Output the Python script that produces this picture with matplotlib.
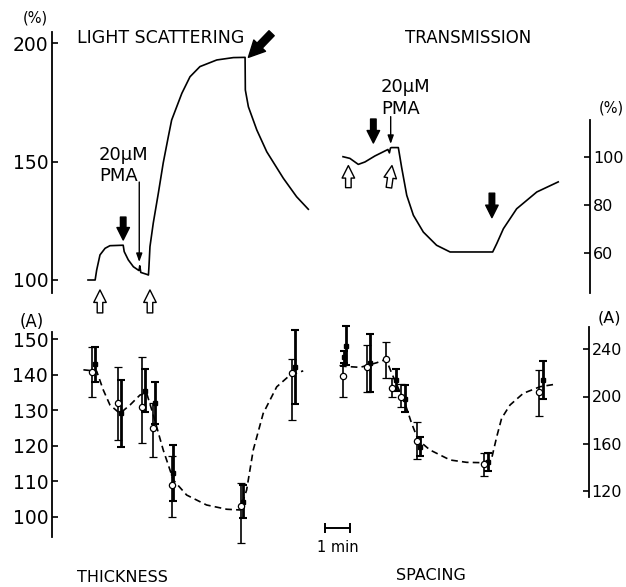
import matplotlib
matplotlib.use("Agg")
import matplotlib.pyplot as plt

W, H = 626, 587
PPM = 25.5  # pixels per minute in the figure

# ---- light scattering (%), time in min ----
ls_t = [0.00, 0.28, 0.34, 0.47, 0.67, 0.86, 1.38, 1.42, 1.58, 1.78, 1.97, 2.00, 2.03, 2.07,
        2.30, 2.37, 2.39, 2.43, 2.56, 2.76, 2.95, 3.15, 3.28, 3.68, 4.00, 4.39, 5.05, 5.70,
        6.16, 6.17, 6.29, 6.62, 7.01, 7.66, 8.18, 8.64]
ls_v = [100.0, 100.0, 104.2, 110.6, 113.4, 114.5, 114.7, 112.0, 108.5, 105.6, 104.2, 104.0,
        106.0, 103.2, 102.4, 102.1, 105.6, 114.1, 124.1, 136.8, 149.5, 160.6, 167.6, 178.9,
        185.9, 190.2, 193.0, 194.0, 194.1, 180.3, 173.2, 163.4, 154.2, 143.0, 135.2, 129.9]

# ---- transmission (%) ----
tr_t = [0.00, 0.27, 0.60, 0.86, 1.25, 1.76, 1.82, 1.86, 1.90, 2.17, 2.30, 2.50, 2.76, 3.15,
        3.67, 4.20, 5.87, 6.03, 6.29, 6.81, 7.60, 8.44]
tr_v = [100.0, 99.3, 96.8, 97.8, 100.3, 103.0, 101.6, 103.6, 103.8, 103.8, 95.5, 83.9, 75.6,
        68.6, 63.1, 60.3, 60.3, 63.8, 70.0, 78.3, 85.3, 89.5]

# ---- thickness (A) ----
th_open_t = [0.17, 1.19, 2.11, 2.53, 3.28, 6.00, 8.01]
th_open_v = [140.7, 132.0, 131.0, 124.9, 108.9, 103.0, 140.4]
th_open_lo = [6.9, 10.4, 10.3, 8.0, 8.9, 10.5, 13.1]
th_open_hi = [7.0, 10.1, 14.1, 7.1, 8.3, 6.6, 4.0]
th_fill_t = [0.29, 1.30, 2.25, 2.61, 3.35, 6.07, 8.12]
th_fill_v = [142.9, 129.1, 135.5, 132.0, 112.4, 104.2, 142.2]
th_fill_err = [4.8, 9.4, 6.0, 6.0, 7.9, 4.7, 10.4]
th_fit_t = [-0.18, 0.34, 0.60, 0.86, 1.25, 1.65, 2.04, 2.30, 2.56, 2.95, 3.35, 3.87, 4.65,
            5.44, 5.96, 6.22, 6.48, 6.87, 7.40, 7.92, 8.44]
th_fit_v = [141.4, 141.0, 135.7, 131.5, 129.1, 131.5, 134.3, 134.8, 128.7, 118.8, 110.3,
            106.1, 103.3, 102.1, 101.9, 107.5, 118.8, 129.1, 136.6, 139.9, 141.1]

# ---- spacing (A) ----
sp_open_t = [-0.01, 0.93, 1.69, 1.93, 2.27, 2.92, 5.53, 7.69]
sp_open_v = [217.4, 224.7, 231.5, 207.2, 200.0, 162.5, 142.8, 203.8]
sp_open_lo = [17.6, 20.6, 16.1, 7.4, 8.6, 15.3, 9.9, 20.3]
sp_open_hi = [9.3, 18.9, 14.9, 8.2, 10.6, 15.5, 9.1, 18.7]
sp_fill_t = [0.02, 0.12, 1.04, 2.06, 2.43, 3.02, 5.70, 7.84]
sp_fill_v = [233.7, 243.0, 228.1, 214.0, 198.0, 157.5, 144.7, 214.0]
sp_fill_err = [5.0, 16.5, 24.5, 9.6, 11.5, 8.0, 7.5, 16.0]
sp_fit_t = [-0.12, 0.67, 1.32, 1.69, 1.91, 2.17, 2.43, 2.69, 2.95, 3.41, 4.20, 4.85, 5.50,
            5.83, 6.03, 6.22, 6.55, 7.07, 7.73, 8.38]
sp_fit_v = [225.8, 224.7, 228.6, 231.5, 219.7, 207.0, 194.2, 177.3, 163.1, 154.7, 146.2,
            144.2, 143.9, 147.6, 166.0, 181.5, 192.8, 202.7, 208.3, 210.6]

ls_ticks = [100, 150, 200]
tr_ticks = [60, 80, 100]
th_ticks = [100, 110, 120, 130, 140, 150]
sp_ticks = [120, 160, 200, 240]

FONT = "DejaVu Sans"
plt.rcParams["font.family"] = FONT


def overlay(fig, t0_px, y_ref_px, v_ref, px_per_unit):
    # full-figure transparent axes, calibrated so that one minute = PPM pixels
    ax = fig.add_axes([0, 0, 1, 1])
    ax.patch.set_visible(False)
    ax.set_xlim(-t0_px / PPM, (W - t0_px) / PPM)
    ax.set_ylim(v_ref - (H - y_ref_px) / px_per_unit, v_ref + y_ref_px / px_per_unit)
    for s in ax.spines.values():
        s.set_visible(False)
    ax.set_xticks([])
    return ax


def y_axis(ax, side, t_pos, lo, hi, ticks):
    sp = ax.spines[side]
    sp.set_visible(True)
    sp.set_position(("data", t_pos))
    sp.set_bounds(lo, hi)
    sp.set_linewidth(1.3)
    ax.set_yticks(ticks)
    if side == "right":
        ax.yaxis.set_ticks_position("right")
        ax.tick_params(axis="y", labelright=True, labelleft=False)
        # right-hand labels sit against the figure edge
        ax.tick_params(axis="y", direction="in", length=4, width=1.2, labelsize=11.5, pad=2.0)
    else:
        ax.tick_params(axis="y", direction="in", length=4, width=1.2, labelsize=13.5, pad=3.0)


def px(x, y):
    return x / W, 1 - y / H


def block_arrow(ax, tip, tail, fc, size=10):
    ax.annotate("", xy=tip, xytext=tail,
                arrowprops=dict(arrowstyle="simple,head_length=0.9,head_width=0.9,tail_width=0.4",
                                fc=fc, ec="black", lw=1.0, shrinkA=0, shrinkB=0,
                                mutation_scale=size))


def thin_arrow(ax, tip, tail):
    ax.annotate("", xy=tip, xytext=tail,
                arrowprops=dict(arrowstyle="-|>,head_length=0.5,head_width=0.18", fc="black",
                                ec="black", lw=1.0, shrinkA=0, shrinkB=0, mutation_scale=10))


fig = plt.figure(figsize=(W / 100, H / 100), dpi=100)

# light scattering
ax_ls = overlay(fig, 88, 280, 100, 2.366)
ax_ls.plot(ls_t, ls_v, color="black", lw=1.2)
y_axis(ax_ls, "left", -1.40, 94.5, 204.8, ls_ticks)
block_arrow(ax_ls, (1.38, 116.9), (1.38, 126.6), "black")
thin_arrow(ax_ls, (2.01, 107.6), (2.01, 141.4))
block_arrow(ax_ls, (6.29, 194.1), (7.20, 204.3), "black", size=13)
block_arrow(ax_ls, (0.47, 95.8), (0.47, 86.1), "white")
block_arrow(ax_ls, (2.43, 95.8), (2.43, 86.1), "white")

# transmission
ax_tr = overlay(fig, 343, 156.7, 100, 2.4)
ax_tr.plot(tr_t, tr_v, color="black", lw=1.2)
y_axis(ax_tr, "right", 9.69, 43.1, 115.3, tr_ticks)
block_arrow(ax_tr, (1.19, 105.7), (1.19, 115.7), "black")
thin_arrow(ax_tr, (1.87, 105.3), (1.87, 116.7))
block_arrow(ax_tr, (0.21, 96.3), (0.21, 87.1), "white")
block_arrow(ax_tr, (1.92, 96.3), (1.80, 87.1), "white")
block_arrow(ax_tr, (5.84, 74.6), (5.84, 84.8), "black")

# thickness
ax_th = overlay(fig, 88, 339.3, 150, 3.548)
ax_th.plot(th_fit_t, th_fit_v, color="black", lw=1.2, ls=(0, (4, 2.5)))
ax_th.errorbar(th_fill_t, th_fill_v, yerr=th_fill_err, fmt="s", ms=3, color="black",
               elinewidth=2.0, capsize=3, capthick=1.5)
ax_th.errorbar(th_open_t, th_open_v, yerr=[th_open_lo, th_open_hi], fmt="o", ms=4.5,
               mfc="white", mec="black", mew=0.9, color="black", elinewidth=1.2,
               capsize=3, capthick=1.5)
y_axis(ax_th, "left", -1.40, 94.4, 152.1, th_ticks)

# spacing
ax_sp = overlay(fig, 343, 349.3, 240, 1.18)
ax_sp.plot(sp_fit_t, sp_fit_v, color="black", lw=1.2, ls=(0, (4, 2.5)))
ax_sp.errorbar(sp_fill_t, sp_fill_v, yerr=sp_fill_err, fmt="s", ms=3, color="black",
               elinewidth=2.0, capsize=3, capthick=1.5)
ax_sp.errorbar(sp_open_t, sp_open_v, yerr=[sp_open_lo, sp_open_hi], fmt="o", ms=4.5,
               mfc="white", mec="black", mew=0.9, color="black", elinewidth=1.2,
               capsize=3, capthick=1.5)
y_axis(ax_sp, "right", 9.64, 115.0, 259.2, sp_ticks)

# 1 min scale bar
bar_t = [-0.71, 0.29]
bar_v = [88.8, 88.8]
ax_sp.plot(bar_t, bar_v, color="black", lw=1.4, marker="|", ms=7, mew=1.4)

# labels
fig.text(*px(35, 18), "(%)", fontsize=10.5, ha="center", va="center")
fig.text(*px(77, 38), "LIGHT SCATTERING", fontsize=12.5, ha="left", va="center")
fig.text(*px(468, 38), "TRANSMISSION", fontsize=12, ha="center", va="center")
fig.text(*px(99, 155), "20µM", fontsize=13, ha="left", va="center")
fig.text(*px(99, 176), "PMA", fontsize=13, ha="left", va="center")
fig.text(*px(381, 87), "20µM", fontsize=13, ha="left", va="center")
fig.text(*px(381, 109), "PMA", fontsize=13, ha="left", va="center")
fig.text(*px(599, 108), "(%)", fontsize=10.5, ha="left", va="center")
fig.text(*px(32, 322), "(A)", fontsize=12, ha="center", va="center")
fig.text(*px(598, 318), "(A)", fontsize=11.5, ha="left", va="center")
fig.text(*px(77, 577), "THICKNESS", fontsize=11.5, ha="left", va="center")
fig.text(*px(396, 575), "SPACING", fontsize=11.5, ha="left", va="center")
fig.text(*px(338, 547), "1 min", fontsize=10.5, ha="center", va="center")

fig.savefig("out.png", dpi=100)
